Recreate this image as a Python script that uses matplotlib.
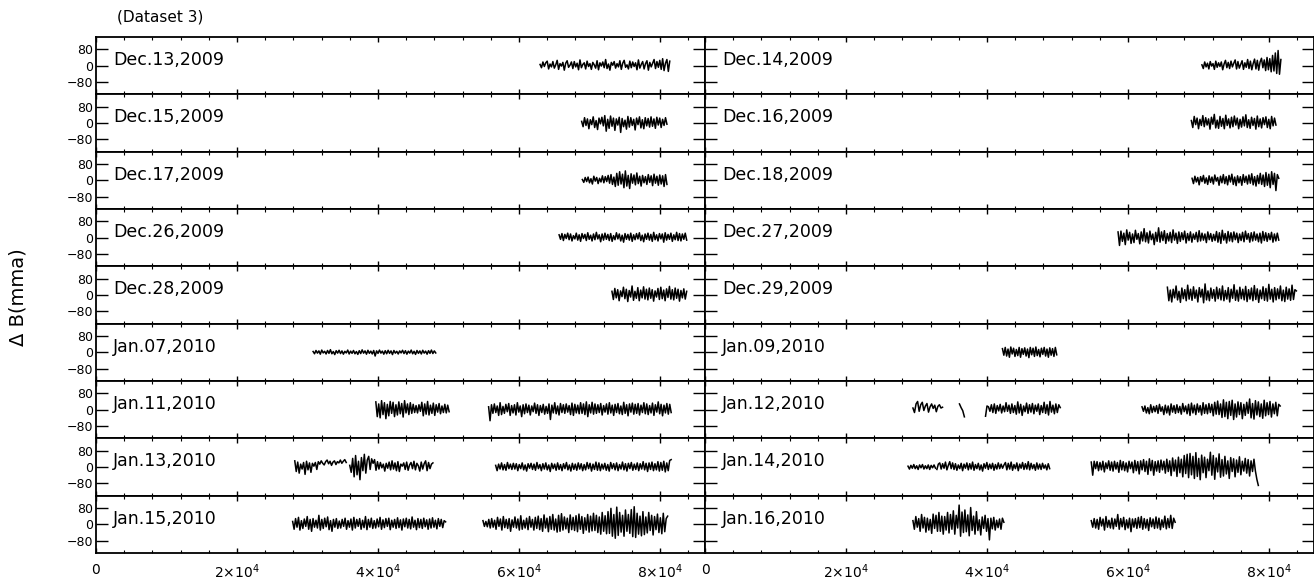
import matplotlib
matplotlib.use("Agg")
import matplotlib.pyplot as plt
import numpy as np
from matplotlib.ticker import FixedLocator, MultipleLocator

# ---- data: residuals (mma), time in units of 1000 s since midnight ----
# every run is [start, end, values]; samples are evenly spaced inside a run

dec13_runs = [[63.0, 81.4, [6, -10, 18, -4, 14, 22, -16, 8, -6, 20, -12, 4, 26, -18, 10, -2, 16, -22, 12, 24, -8, 2, 18, -14, 20, -6, 12, -20, 28, -10, 6, 14, -16, 22, -4, 10, -18, 16, 4, -12, 24, -20, 14, -2, 18, -10, 30, -14, 8, -22, 16, 2, 20, -12, 10, -6, 24, -18, 12, 26, -8, 4, -16, 22, -10, 18, -4, 14, -20, 28, -12, 6, 20, -16, 10, 24, -22, 16, -6, 12, 30, -14, 20, -8, 26, -18, 34, -24, 12, 30, -28, 22]]]
dec14_runs = [[70.5, 81.7, [4, -14, 18, -6, 12, -16, 20, -2, 10, -18, 22, -8, 14, -4, 18, -20, 8, 26, -10, 16, -14, 22, -6, 12, 28, -16, 20, -12, 6, 24, -18, 14, -8, 30, -14, 22, -20, 10, 32, -16, 26, -22, 18, 36, -10, 28, -24, 40, -20, 34, -30, 50, -26, 62, -38, 74, -42, 30]]]
dec15_runs = [[68.9, 81.0, [8, -18, 26, -12, 20, -28, 16, -8, 30, -22, 12, -32, 24, -4, 28, -14, 36, -40, 18, -26, 34, -16, 24, -36, 20, -10, 28, -46, 22, -18, 14, -30, 32, -20, 26, -12, 18, -34, 24, -8, 30, -24, 16, -28, 26, -14, 22, -20, 30, -16, 20, -26, 28, -10, 24, -22, 18, -12, 26, -6]]]
dec16_runs = [[69.0, 81.0, [12, -22, 32, -8, 24, -28, 18, -12, 36, -18, 26, -10, 20, -30, 28, -6, 42, -24, 14, -26, 32, -16, 22, -28, 38, -12, 20, -24, 28, -18, 34, -10, 24, -28, 18, -20, 30, -14, 40, -22, 16, -26, 28, -12, 22, -30, 34, -18, 20, -24, 26, -8, 30, -22, 18, -28, 32, -14, 24, -10]]]
dec17_runs = [[69.0, 81.0, [4, -10, 14, -6, 16, -12, 8, -18, 20, -4, 14, -16, 10, -8, 22, -12, 18, -6, 24, -14, 28, -20, 16, -30, 34, -24, 42, -18, 30, -36, 46, -28, 24, -40, 32, -14, 26, -22, 36, -16, 20, -28, 24, -12, 18, -20, 28, -10, 22, -26, 30, -14, 20, -24, 26, -18, 22, -30, 28, -20]]]
dec18_runs = [[69.1, 81.4, [10, -16, 20, -8, 14, -22, 18, -6, 24, -14, 12, -20, 22, -10, 16, -18, 26, -4, 14, -24, 20, -12, 28, -16, 18, -22, 24, -8, 30, -20, 16, -26, 22, -12, 18, -24, 28, -10, 20, -18, 26, -14, 32, -22, 18, -28, 24, -16, 34, -20, 26, -30, 38, -24, 30, -36, 42, -20, 34, -50, 28, 10]]]
dec26_runs = [[65.7, 83.8, [14, -8, 20, -14, 16, -4, 22, -10, 18, -16, 10, -6, 22, -12, 14, -18, 20, -4, 16, -14, 24, -8, 12, -16, 18, -10, 26, -6, 14, -20, 18, -12, 22, -8, 16, -14, 20, -18, 10, -10, 24, -6, 18, -16, 12, -22, 20, -8, 16, -12, 22, -18, 14, -10, 20, -6, 24, -14, 12, -20, 18, -8, 22, -12, 16, -18, 26, -10, 14, -16, 20, -6, 18, -22, 24, -12, 16, -8, 22, -18, 14, -10, 26, -14, 20, -16, 18, -8, 22, -12]]]
dec27_runs = [[58.6, 81.4, [28, -38, 32, -18, 22, -34, 38, -12, 26, -28, 18, -24, 36, -8, 20, -30, 28, -16, 44, -20, 24, -26, 32, -10, 18, -34, 26, -18, 48, -22, 28, -14, 34, -28, 20, -16, 26, -24, 38, -12, 22, -28, 28, -18, 24, -10, 32, -26, 20, -14, 28, -22, 18, -8, 26, -20, 34, -16, 22, -12, 18, -24, 28, -10, 20, -18, 16, -14, 30, -22, 24, -28, 36, -12, 20, -26, 30, -16, 24, -20, 28, -10, 22, -24, 18, -14, 26, -20, 32, -8, 20, -22, 24, -16, 28, -12, 18, -20, 22, -26, 30, -14, 24, -18, 20, -10, 26, -22, 18, -16, 22, -12]]]
dec28_runs = [[73.2, 83.8, [18, -22, 32, -14, 26, -28, 20, -8, 38, -18, 28, -32, 22, -10, 44, -26, 18, -16, 36, -28, 24, -14, 40, -20, 28, -24, 34, -16, 26, -30, 20, -10, 32, -22, 38, -18, 24, -28, 30, -12, 42, -20, 26, -24, 34, -16, 28, -30, 22, -14, 30, -20, 18]]]
dec29_runs = [[65.6, 83.9, [38, -28, 24, -34, 28, -14, 44, -24, 18, -36, 34, -18, 26, -28, 48, -20, 28, -26, 40, -16, 24, -34, 36, -10, 28, -38, 54, -24, 20, -28, 34, -16, 26, -30, 38, -18, 30, -24, 44, -28, 22, -20, 36, -34, 28, -16, 50, -26, 24, -30, 38, -18, 28, -24, 42, -32, 26, -20, 34, -28, 46, -22, 30, -36, 24, -18, 40, -26, 32, -30, 52, -20, 28, -34, 36, -24, 30, -18, 44, -28, 24, -32, 38, -20, 30, -26, 48, -22, 26, 20]]]
jan07_runs = [[30.8, 48.2, [4, -7, 9, -4, 7, -9, 11, -3, 5, -8, 9, -5, 13, -7, 4, -11, 8, -4, 10, -6, 7, -9, 5, -3, 11, -8, 6, -5, 9, -7, 4, -10, 8, -6, 12, -4, 7, -9, 10, -5, 6, -8, 9, -18, 7, -5, 11, -4, 6, -9, 8, -7, 10, -5, 7, -11, 9, -4, 5, -8, 7, -3, 10, -6, 8, -9, 6, -4, 11, -7, 5, -10, 9, -5, 7, -8, 10, -4, 6, -9, 8, -5, 11, -6, 7, -3]]]
jan09_runs = [[42.2, 49.9, [18, -14, 24, -18, 16, -24, 26, -8, 20, -20, 14, -16, 24, -24, 18, -10, 22, -18, 16, -26, 24, -12, 20, -20, 26, -16, 14, -22, 20, -10, 24, -18, 16, -24, 22, -14, 18, -20, 24, -12]]]
jan11_runs = [
    [39.7, 50.1, [38, -34, 28, -40, 44, -24, 34, -44, 26, -30, 40, -18, 36, -34, 24, -26, 38, -20, 30, -36, 44, -16, 28, -24, 34, -18, 26, -14, 20, -16, 24, -8, 36, -30, 28, -22, 40, -26, 22, -18, 32, -28, 24, -12, 30, -20, 18, -14, 26, -16, 22, -10]],
    [55.7, 81.6, [14, -54, 24, -18, 28, -14, 18, -28, 34, -24, 16, -18, 26, -10, 30, -28, 20, -16, 24, -26, 34, -12, 18, -34, 24, -20, 28, -14, 22, -26, 18, -10, 32, -18, 24, -28, 20, -14, 26, -22, 16, -18, 28, -48, 22, -16, 34, -20, 18, -26, 30, -14, 24, -18, 28, -12, 20, -24, 32, -28, 26, -16, 22, -20, 34, -18, 28, -24, 38, -34, 24, -16, 36, -22, 28, -18, 24, -14, 30, -26, 20, -12, 28, -22, 34, -16, 22, -28, 26, -14, 30, -20, 18, -24, 36, -18, 24, -30, 28, -12, 32, -22, 26, -18, 30, -26, 22, -14, 34, -20, 28, -24, 20, -16, 32, -28, 24, -12, 38, -20, 26, -30, 22, -16, 30, -22, 26, -14]],
]
jan12_runs = [
    [29.5, 33.7, [8, -14, 28, 40, -8, 24, 36, -4, 18, 30, -12, 14, 28, 6, 22, -10, 16, 24, 8, 12]],
    [36.1, 36.8, [28, 10, -5, -35]],
    [39.8, 50.4, [-32, 18, 14, -8, 24, -14, 28, -18, 20, -6, 26, -16, 18, -10, 34, -8, 22, -18, 28, -14, 20, -22, 38, -16, 26, -28, 18, -10, 32, -18, 24, -12, 30, -20, 22, -8, 28, -24, 20, -14, 36, -18, 24, -26, 40, -12, 22, -20, 28, -14, 24, 10]],
    [62.0, 81.6, [14, -8, 18, -16, 10, -20, 24, -14, 16, -10, 20, -18, 26, -8, 14, -24, 22, -16, 18, -26, 28, -12, 20, -18, 24, -14, 16, -22, 30, -10, 18, -20, 26, -28, 32, -16, 22, -24, 28, -12, 20, -26, 34, -18, 24, -20, 30, -14, 26, -30, 36, -22, 42, -24, 28, -38, 48, -34, 36, -44, 40, -28, 46, -48, 28, -36, 38, -24, 34, -44, 26, -28, 36, -18, 52, -40, 30, -46, 44, -26, 38, -34, 28, -42, 46, -30, 34, -24, 40, -36, 28, -20, 36, -30, 26, 18]],
]
jan13_runs = [
    [28.2, 35.5, [30, -22, 24, -30, 14, -10, 22, -36, 28, -14, 20, -26, 18, 4, 22, -12, 26, 14, 30, 18, 10, 26, 34, 16, 28, 8, 24, 30, 12, 26, 20, 34, 18, 28, 36, 22]],
    [36.0, 47.8, [8, -26, 42, -48, 56, -38, 28, -62, 46, -18, 62, -30, 34, 52, -12, 40, 18, 36, -16, 26, -10, 22, -4, 14, -20, 18, -6, 24, -14, 30, -10, 20, -18, 26, -22, 14, 4, 20, -12, 24, -16, 10, 22, -8, 28, -14, 18, 6, -20, 24, -10, 16, 30, -18, 22, -8, 14, 20]],
    [56.7, 81.6, [8, -18, 14, -10, 20, -14, 12, -16, 22, -8, 14, -12, 18, -10, 16, -18, 12, -8, 20, -14, 10, -20, 16, -6, 18, -12, 14, -16, 22, -8, 12, -18, 16, -10, 20, -14, 10, -22, 18, -8, 14, -16, 20, -12, 12, -18, 16, -8, 22, -14, 10, -20, 18, -12, 14, -16, 20, -10, 16, -18, 12, -14, 22, -8, 18, -20, 14, -12, 24, -16, 20, -18, 14, -10, 18, -16, 12, -20, 22, -8, 16, -14, 20, -18, 12, -10, 24, -14, 16, -20, 18, -8, 22, -16, 14, -12, 20, -18, 16, -10, 26, -14, 18, -22, 20, -12, 24, -18, 16, -14, 26, -20, 22, -16, 28, -24, 20, -18, 32, 36]],
]
jan14_runs = [
    [28.8, 32.7, [4, -10, 8, -6, 12, -8, 6, -12, 10, -4, 12, -10, 6, -8, 10, -12, 8, -4, 10, -6]],
    [32.9, 48.9, [-12, 14, 20, -10, 16, -6, 24, -14, 8, 26, -8, 20, -12, 16, -16, 10, -8, 18, -18, 14, -6, 20, -14, 16, -10, 24, -16, 12, -8, 18, -14, 10, -20, 16, -6, 22, -12, 14, -8, 18, -16, 12, -10, 20, -8, 14, -6, 10, 22, -14, 18, -10, 24, -16, 12, -8, 20, -18, 14, -6, 22, -12, 16, -10, 26, -14, 18, -8, 12, -16, 20, -10, 14, -12, 18, -6, 10, -14, 16, -8]],
    [54.8, 78.5, [24, -40, 28, -8, 26, -18, 22, -14, 28, -24, 20, -8, 30, -16, 24, -20, 28, -10, 22, -26, 32, -14, 26, -18, 20, -24, 28, -8, 24, -28, 32, -18, 26, -34, 30, -14, 36, -22, 28, -36, 40, -18, 32, -40, 26, -20, 30, -26, 34, -14, 28, -30, 38, -22, 30, -42, 44, -20, 34, -46, 48, -28, 38, -48, 56, -32, 62, -52, 66, -38, 52, -56, 70, -46, 42, -62, 58, -28, 48, -52, 38, -18, 72, -40, 56, -60, 44, -24, 64, -50, 36, -44, 52, -34, 30, -56, 46, -22, 40, -48, 34, -26, 50, -38, 28, -20, 42, -30, 36, -44, 30, -22, 38, -20, -60, -90]],
]
jan15_runs = [
    [27.9, 49.6, [14, -24, 28, -14, 34, -28, 18, -20, 26, -10, 38, -24, 24, -34, 28, -14, 20, -18, 44, -28, 24, -20, 30, -12, 36, -26, 18, -34, 24, -14, 28, -20, 16, -18, 24, -10, 30, -24, 18, -14, 26, -28, 34, -18, 24, -10, 28, -24, 20, -16, 38, -26, 24, -14, 30, -20, 18, -18, 26, -12, 34, -24, 22, -16, 28, -10, 30, -26, 20, -14, 24, -20, 32, -16, 22, -28, 26, -12, 30, -18, 24, -22, 36, -14, 20, -26, 28, -16, 24, -20, 30, -12, 22, -24, 26, -18, 32, -14, 20, -22, 28, -10, 24, -16, 18, 12]],
    [54.9, 81.1, [18, -10, 14, -12, 24, -18, 28, -14, 20, -24, 34, -10, 26, -28, 38, -16, 24, -20, 28, -34, 22, -14, 36, -18, 26, -28, 42, -24, 20, -18, 30, -26, 38, -14, 24, -28, 34, -20, 40, -26, 28, -34, 46, -18, 30, -36, 38, -24, 48, -28, 26, -38, 44, -34, 52, -28, 36, -22, 30, -40, 46, -26, 34, -30, 42, -36, 50, -24, 38, -44, 32, -28, 48, -38, 40, -32, 54, -30, 44, -40, 36, -48, 58, -34, 42, -46, 62, -44, 78, -58, 48, -68, 84, -54, 58, -38, 44, -58, 70, -34, 48, -44, 72, -60, 86, -64, 54, -48, 40, -56, 62, -50, 36, -42, 58, -30, 44, -52, 38, -26, 50, -40, 32, -46, 54, -36, 28, 40]],
]
jan16_runs = [
    [29.5, 42.4, [18, -24, 38, -14, 28, -34, 48, -18, 34, -38, 30, -28, 24, -44, 50, -20, 44, -34, 58, -34, 40, -48, 38, -28, 58, -42, 48, -24, 66, -48, 44, -18, 94, -58, 60, -40, 70, -36, 46, -56, 82, -30, 40, -48, 62, -30, 22, -52, 36, -20, 44, -34, 28, -76, 30, -22, 34, -28, 20, -16, 26, -24, 30, 10]],
    [54.8, 66.7, [18, -14, 28, -18, 24, -24, 34, -8, 26, -28, 38, -14, 20, -18, 30, -22, 26, -10, 48, -24, 28, -12, 34, -26, 22, -18, 30, -36, 26, -14, 28, -20, 34, -16, 38, -24, 28, -18, 24, -30, 32, -12, 26, -20, 36, -18, 30, -26, 22, -14, 40, -22, 28, -16, 44, -20, 30, 10]],
]

left_dates = ["Dec.13,2009", "Dec.15,2009", "Dec.17,2009", "Dec.26,2009", "Dec.28,2009",
              "Jan.07,2010", "Jan.11,2010", "Jan.13,2010", "Jan.15,2010"]
right_dates = ["Dec.14,2009", "Dec.16,2009", "Dec.18,2009", "Dec.27,2009", "Dec.29,2009",
               "Jan.09,2010", "Jan.12,2010", "Jan.14,2010", "Jan.16,2010"]
left_runs = [dec13_runs, dec15_runs, dec17_runs, dec26_runs, dec28_runs,
             jan07_runs, jan11_runs, jan13_runs, jan15_runs]
right_runs = [dec14_runs, dec16_runs, dec18_runs, dec27_runs, dec29_runs,
              jan09_runs, jan12_runs, jan14_runs, jan16_runs]

y_ticks = [-80, 0, 80]
x_ticks = [0, 20000, 40000, 60000, 80000]
x_labels = ["0", r"$2{\times}10^4$", r"$4{\times}10^4$", r"$6{\times}10^4$", r"$8{\times}10^4$"]

# ---- layout (pixel geometry) ----
W, H = 1314, 585
fig = plt.figure(figsize=(W / 100, H / 100), dpi=100)

col_x = [96, 705]
col_w = 609
top_px, bot_px = 37, 553
nrows = 9
row_h = (bot_px - top_px) / nrows


def draw_panel(ax, runs, label, col, row):
    for start, end, vals in runs:
        t = np.linspace(start, end, len(vals)) * 1000
        ax.plot(t, vals, color="black", linewidth=1.1)
    ax.set_xlim(0, 86400)
    ax.set_ylim(-140, 140)
    ax.text(0.028, 0.6, label, transform=ax.transAxes, fontsize=12.5,
            ha="left", va="center")

    ax.xaxis.set_major_locator(FixedLocator(x_ticks))
    ax.xaxis.set_minor_locator(MultipleLocator(4000))
    ax.tick_params(axis="x", which="major", direction="in", top=True, bottom=True,
                   length=3.5, width=1.0)
    ax.tick_params(axis="x", which="minor", direction="in", top=True, bottom=True,
                   length=2, width=0.8)
    if row == nrows - 1:
        ax.set_xticklabels(x_labels, fontsize=10)
        ax.tick_params(axis="x", which="major", pad=7)
    else:
        ax.set_xticklabels([])

    ax.set_yticks(y_ticks)
    ax.tick_params(axis="y", direction="in", left=True, right=True,
                   length=8.5, width=1.0)
    if col == 0:
        ax.set_yticklabels([str(v).replace("-", "\u2212") for v in y_ticks], fontsize=9)
        ax.tick_params(axis="y", pad=2)
    else:
        ax.set_yticklabels([])

    for sp in ax.spines.values():
        sp.set_linewidth(1.3)


for col, (dates, runs_list) in enumerate([(left_dates, left_runs), (right_dates, right_runs)]):
    for row in range(nrows):
        row_bottom = top_px + (row + 1) * row_h
        ax = fig.add_axes([col_x[col] / W, 1 - row_bottom / H, col_w / W, row_h / H])
        draw_panel(ax, runs_list[row], dates[row], col, row)

fig.text(117 / W, 1 - 17 / H, "(Dataset 3)", fontsize=11, ha="left", va="center")
fig.text(18 / W, 1 - 297 / H, "\u0394 B(mma)", fontsize=14, rotation=90,
         ha="center", va="center")

fig.savefig("out.png", dpi=100)
